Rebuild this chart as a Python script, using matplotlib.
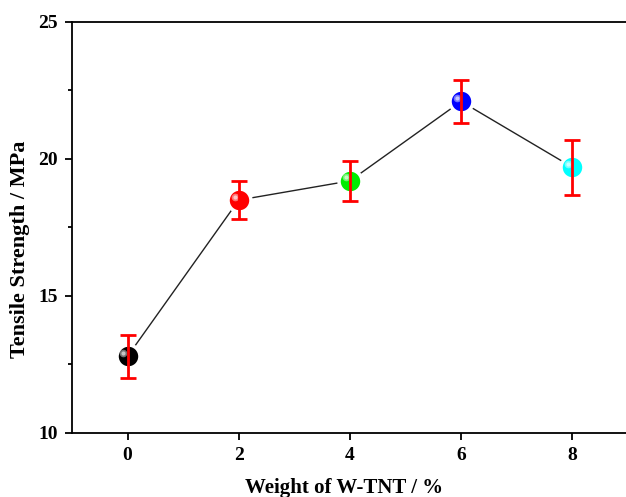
import matplotlib.pyplot as plt
from matplotlib.transforms import ScaledTranslation

# datos
weight = [0, 2, 4, 6, 8]
strength = [12.8, 18.5, 19.2, 22.1, 19.7]
error = [0.78, 0.7, 0.73, 0.8, 1.0]
colores = ['#000000', '#ff0000', '#00ee00', '#0000ff', '#00ffff']

plt.rcParams['font.family'] = ['Liberation Serif', 'DejaVu Serif']
plt.rcParams['font.weight'] = 'bold'

fig = plt.figure(figsize=(6.26, 4.97), dpi=100)
ax = fig.add_axes([0.115, 0.1288, 0.888, 0.827])

# linea de union
ax.plot(weight, strength, color='#222222', linewidth=1.0, zorder=1)

# esferas con borde blanco para el hueco
off = ScaledTranslation(-3 / 72, 2.5 / 72, fig.dpi_scale_trans)
for x, y, c in zip(weight, strength, colores):
    ax.plot(x, y, marker='o', markersize=16.5, color=c,
            markeredgecolor='white', markeredgewidth=2.5, zorder=2)
    # brillo de la esfera
    ax.plot(x, y, marker='o', markersize=5.5, color='white', alpha=0.45,
            markeredgewidth=0, transform=ax.transData + off, zorder=3)
    ax.plot(x, y, marker='o', markersize=3, color='white', alpha=0.6,
            markeredgewidth=0, transform=ax.transData + off, zorder=3)

ax.errorbar(weight, strength, yerr=error, fmt='none', ecolor='red',
            elinewidth=2, capsize=5.5, capthick=2, zorder=4)

ax.set_xlim(-1, 9)
ax.set_ylim(10, 25)
ax.set_xticks([0, 2, 4, 6, 8])
ax.set_yticks([10, 15, 20, 25])
ax.set_yticks([12.5, 17.5, 22.5], minor=True)
ax.tick_params(direction='out', length=5, width=1.3, labelsize=14, pad=5)
ax.tick_params(which='minor', direction='out', length=3, width=1.3)
for s in ax.spines.values():
    s.set_linewidth(1.3)

ax.set_xlabel('Weight of W-TNT / %', fontsize=15, fontweight='bold')
ax.set_ylabel('Tensile Strength / MPa', fontsize=16, fontweight='bold')
ax.xaxis.set_label_coords(0.49, -0.11)
ax.yaxis.set_label_coords(-0.075, 0.448)

plt.savefig('out.png', dpi=100)
